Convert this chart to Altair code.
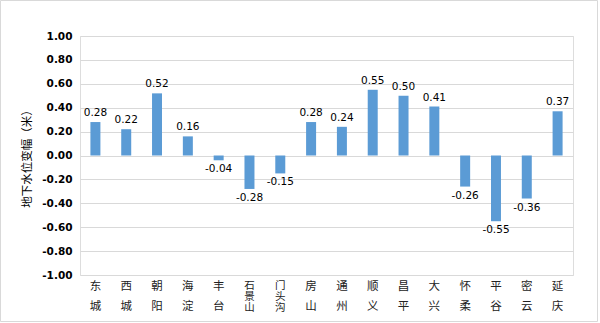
import altair as alt
import pandas as pd

names = ["东城", "西城", "朝阳", "海淀", "丰台", "石景山", "门头沟", "房山",
         "通州", "顺义", "昌平", "大兴", "怀柔", "平谷", "密云", "延庆"]
values = [0.28, 0.22, 0.52, 0.16, -0.04, -0.28, -0.15, 0.28,
          0.24, 0.55, 0.50, 0.41, -0.26, -0.55, -0.36, 0.37]
y_ticks = [-1.0, -0.8, -0.6, -0.4, -0.2, 0.0, 0.2, 0.4, 0.6, 0.8, 1.0]
y_title = "地下水位变幅（米）"

df = pd.DataFrame({"name": names, "value": values})
df["nlen"] = df["name"].str.len()

W, H = 493, 239

xscale = alt.Scale(paddingInner=0.0, paddingOuter=0.0)
yscale = alt.Scale(domain=[-1, 1], nice=False, zero=True)
xenc = alt.X("name:N", sort=names, title=None, scale=xscale)
yenc = alt.Y("value:Q", scale=yscale, title=y_title,
             axis=alt.Axis(values=y_ticks, format=".2f"))

base = alt.Chart(df)

bars = base.mark_bar(size=10, color="#5B9BD5").encode(x=xenc, y=yenc)

lbl = base.transform_calculate(
    txt="replace(format(datum.value, '.2f'), '\u2212', '-')"
)

pos_lbl = lbl.mark_text(baseline="bottom", dy=-4, font="DejaVu Sans",
                        fontSize=10.5, color="#000000").encode(
    x=xenc, y=yenc, text="txt:N"
).transform_filter("datum.value >= 0")

neg_lbl = lbl.mark_text(baseline="top", dy=4, font="DejaVu Sans",
                        fontSize=10.5, color="#000000").encode(
    x=xenc, y=yenc, text="txt:N"
).transform_filter("datum.value < 0")

xlab2 = base.transform_filter("datum.nlen == 2").transform_calculate(
    lab="split(datum.name, '')"
).mark_text(baseline="top", font="Noto Sans CJK SC", fontSize=11.5,
            lineHeight=20, color="#222222").encode(
    x=xenc, y=alt.value(H + 6), text="lab:N"
)

xlab3 = base.transform_filter("datum.nlen == 3").transform_calculate(
    lab="split(datum.name, '')"
).mark_text(baseline="top", font="Noto Sans CJK SC", fontSize=10.5,
            lineHeight=11, color="#222222").encode(
    x=xenc, y=alt.value(H + 6), text="lab:N"
)

L, R, T, B = -79.5, W + 24.5, -35.5, H + 46.5
one = base.transform_filter("datum.name == '东城'")
rule_style = dict(color="#d9d9d9", strokeWidth=1)
b_top = one.mark_rule(**rule_style).encode(x=alt.value(L), x2=alt.value(R), y=alt.value(T))
b_bot = one.mark_rule(**rule_style).encode(x=alt.value(L), x2=alt.value(R), y=alt.value(B))
b_left = one.mark_rule(**rule_style).encode(x=alt.value(L), y=alt.value(T), y2=alt.value(B))
b_right = one.mark_rule(**rule_style).encode(x=alt.value(R), y=alt.value(T), y2=alt.value(B))

chart = alt.layer(bars, pos_lbl, neg_lbl, xlab2, xlab3,
                  b_top, b_bot, b_left, b_right).properties(
    width=W, height=H,
    autosize=alt.AutoSizeParams(type="none"),
    padding={"left": 80, "top": 36, "right": 27, "bottom": 48},
).configure_view(stroke=None, strokeOpacity=0).configure(
    background="white"
).configure_axis(
    grid=False, domain=False, ticks=False
).configure_axisX(
    labels=False, ticks=False, domain=False, grid=False, title=None
).configure_axisY(
    grid=True, gridColor="#d9d9d9", gridWidth=1, domain=False, ticks=False,
    labelOverlap=False, labelExpr="replace(datum.label, '\u2212', '-')",
    labelFont="DejaVu Sans", labelFontWeight="bold", labelFontSize=10.5,
    labelColor="#000000", labelPadding=8,
    titleFont="Noto Sans CJK SC", titleFontWeight="normal",
    titleFontSize=11.5, titleColor="#000000", titlePadding=9
)

chart.save("out.html", embed_options={"renderer": "svg", "actions": False})
